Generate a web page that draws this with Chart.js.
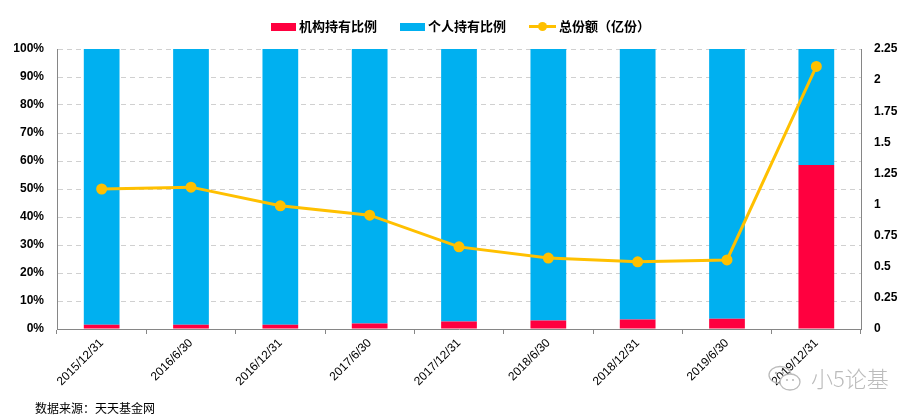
<!DOCTYPE html>
<html><head><meta charset="utf-8">
<script src="https://cdn.jsdelivr.net/npm/chart.js@4.4.1/dist/chart.umd.min.js"></script>
<style>
html,body{margin:0;padding:0;background:#fff;}
#wrap{position:relative;width:921px;height:420px;font-family:"Liberation Sans","Noto Sans CJK SC",Arial,sans-serif;}
canvas{position:absolute;left:0;top:0;}
.lg{position:absolute;top:16px;font-weight:bold;font-size:13px;color:#000;white-space:nowrap;font-family:"Liberation Sans","Noto Sans CJK SC",sans-serif;}
.box{display:inline-block;width:25px;height:8px;vertical-align:middle;margin-right:3px;position:relative;top:-1px;}
.ln{display:inline-block;width:27px;height:3px;background:#FFC000;vertical-align:middle;margin-right:3px;position:relative;top:-1px;}
.ln i{position:absolute;left:9px;top:-3px;width:9px;height:9px;border-radius:50%;background:#FFC000;}
#src{position:absolute;left:35px;top:399px;font-size:12px;color:#000;font-family:"Noto Sans CJK SC",sans-serif;}
#wm{position:absolute;left:811px;top:361px;font-size:22px;color:#bbb;font-family:"Noto Sans CJK SC",sans-serif;font-weight:300;}
#ic{position:absolute;left:767px;top:365px;}
</style></head>
<body>
<div id="wrap">
<canvas id="c" width="921" height="420"></canvas>
<div class="lg" style="left:271px"><span class="box" style="background:#FF003F"></span>机构持有比例</div>
<div class="lg" style="left:400px"><span class="box" style="background:#00B0F0"></span>个人持有比例</div>
<div class="lg" style="left:529px"><span class="ln"><i></i></span>总份额（亿份）</div>
<div id="src">数据来源：天天基金网</div>
<svg id="ic" width="38" height="28" viewBox="0 0 38 28">
  <ellipse cx="13" cy="10" rx="11" ry="8.5" fill="none" stroke="#bbb" stroke-width="1.3"/>
  <ellipse cx="23" cy="17" rx="10" ry="8" fill="#fff" stroke="#bbb" stroke-width="1.3"/>
  <circle cx="9" cy="8" r="1.2" fill="#bbb"/><circle cx="16" cy="8" r="1.2" fill="#bbb"/>
  <circle cx="20" cy="15" r="1.1" fill="#bbb"/><circle cx="26" cy="15" r="1.1" fill="#bbb"/>
</svg>
<div id="wm">小5论基</div>
</div>
<script>
const categories = ["2015/12/31","2016/6/30","2016/12/31","2017/6/30","2017/12/31","2018/6/30","2018/12/31","2019/6/30","2019/12/31"];
const institutional = [1.5, 1.5, 1.5, 2.0, 2.7, 3.0, 3.4, 3.7, 58.6];
const individual = institutional.map(v => +(100 - v).toFixed(1));
const totalShares = [1.125, 1.14, 0.99, 0.915, 0.66, 0.57, 0.54, 0.555, 2.11];
const leftTicks = [0,10,20,30,40,50,60,70,80,90,100];
const rightTicks = [0,0.25,0.5,0.75,1,1.25,1.5,1.75,2,2.25];

const tickFont = {family:"Liberation Sans, Arial, sans-serif", size:12, weight:"bold"};
new Chart(document.getElementById('c'), {
  data: {
    labels: categories,
    datasets: [
      {type:'line', label:'总份额（亿份）', data: totalShares, yAxisID:'y1', borderColor:'#FFC000', backgroundColor:'#FFC000', borderWidth:3, pointRadius:4, pointHoverRadius:4, tension:0, order:0},
      {type:'bar', label:'机构持有比例', data: institutional, yAxisID:'y', backgroundColor:'#FF003F', barPercentage:0.4, categoryPercentage:1, stack:'s', order:1},
      {type:'bar', label:'个人持有比例', data: individual, yAxisID:'y', backgroundColor:'#00B0F0', barPercentage:0.4, categoryPercentage:1, stack:'s', order:1}
    ]
  },
  options: {
    responsive:false, animation:false,
    layout:{padding:{top:49, left:0, right:0, bottom:0}},
    plugins:{legend:{display:false}, tooltip:{enabled:false}},
    scales:{
      x:{stacked:true, offset:true,
        grid:{display:true, drawOnChartArea:false, offset:true, tickLength:5, color:'#868686', lineWidth:1},
        border:{color:'#868686', width:1},
        ticks:{minRotation:45, maxRotation:45, color:'#000', font:{family:"Liberation Sans, Arial, sans-serif", size:12}, padding:2},
        afterFit(s){ s.height = 91; }
      },
      y:{stacked:true, position:'left', min:0, max:100,
        afterBuildTicks(s){ s.ticks = leftTicks.map(v=>({value:v})); },
        grid:{color:'#d0d0d0', tickLength:0, lineWidth:1},
        border:{color:'#868686', width:1, dash:[5,4]},
        ticks:{color:'#000', font:tickFont, padding:13, callback:v=>v+'%'},
        afterFit(s){ s.width = 57; }
      },
      y1:{position:'right', min:0, max:2.25,
        afterBuildTicks(s){ s.ticks = rightTicks.map(v=>({value:v})); },
        grid:{drawOnChartArea:false, tickLength:0},
        border:{color:'#868686', width:1},
        ticks:{color:'#000', font:tickFont, padding:13, callback:v=>String(v)},
        afterFit(s){ s.width = 60; }
      }
    }
  }
});
</script>
</body></html>
